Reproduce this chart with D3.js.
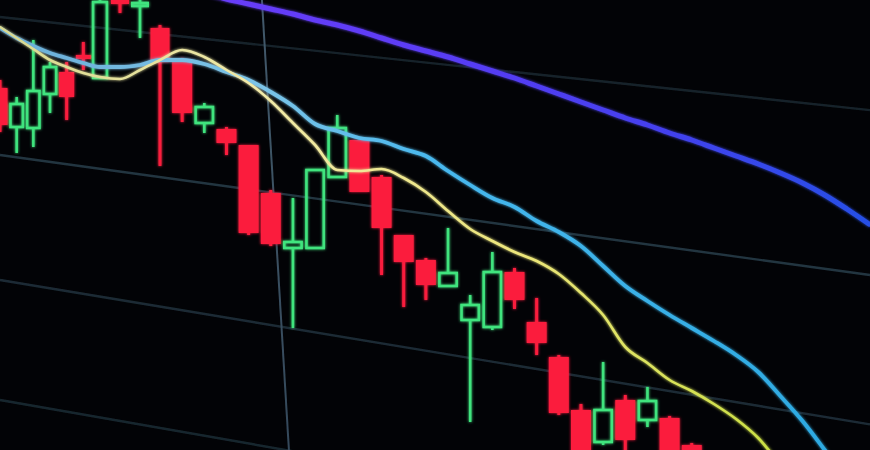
<!DOCTYPE html>
<html>
<head>
<meta charset="utf-8">
<script src="https://cdn.jsdelivr.net/npm/d3@7"></script>
<style>
  html, body { margin: 0; padding: 0; background: #020306; overflow: hidden; }
  svg { display: block; }
</style>
</head>
<body>
<svg id="chart" width="870" height="450"></svg>
<script>
// ---------- DATA ----------
const periods = d3.range(42);               // candle / period index
const opens  = [47120,46730,46720,47060,47280,47450,47220,48050,47940,47720,47400,46770,46710,46550,46070,45520,45520,46230,46600,46230,45650,45400,45140,44800,44730,45280,44780,44430,43900,43580,44000,43800,43820,43550];
const highs  = [47200,47030,47600,47380,47380,47580,48150,48150,48200,47750,47420,46970,46730,46550,46100,46020,46300,46850,46600,46250,45650,45420,45720,45050,45480,45320,45020,44450,43960,44380,44050,44130,43840,43570];
const lows   = [46680,46470,46530,46870,46800,47300,47220,47870,47620,46340,46780,46670,46450,45650,45540,44720,45520,46230,46080,45250,44930,45000,45140,43780,44700,44910,44450,43850,43400,43550,43450,43730,43300,43150];
const closes = [46750,46960,47090,47330,47030,47410,47980,47960,47970,47380,46870,46930,46570,45670,45560,45580,46300,46720,46080,45720,45380,45150,45270,44950,45280,45000,44570,43870,43450,43900,43600,43990,43350,43200];

// moving averages (null = not on chart)
const maFast = [47730,47620,47510,47400,47330,47270,47230,47210,47300,47400,47500,47430,47300,47170,46990,46770,46550,46300,46290,46310,46220,46080,45890,45710,45590,45480,45390,45260,45070,44850,44530,44370,44200,44090,43960,43810,43620,43350,43050,null,null,null];
const maMid  = [47720,47620,47540,47470,47420,47370,47330,47330,47350,47400,47400,47360,47280,47200,47080,46940,46760,46690,46620,46590,46510,46440,46290,46150,46020,45930,45790,45680,45540,45340,45140,44990,44850,44720,44590,44450,44280,44040,43790,43500,43200,null];
const maSlow = [null,null,null,null,null,null,null,null,null,null,48130,48070,48010,47960,47910,47860,47800,47750,47690,47620,47550,47490,47430,47360,47290,47220,47140,47060,46980,46900,46820,46750,46670,46600,46520,46440,46360,46270,46170,46050,45910,45760];

// grid levels (price at left edge) and vertical grid period
const gridLevels = [47830, 46450, 45200, 44000];
const gridPeriods = [13.6];

// ---------- DRAW ----------
const W = 870, H = 450;
const svg = d3.select("#chart");

const x = d3.scaleLinear().domain([0, 6, 9, 41]).range([0, 100, 160, 869]);
const y = d3.scaleLinear().domain([43500, 48000]).range([H, 0]);

const defs = svg.append("defs");
const glow = defs.append("filter").attr("id", "glow")
  .attr("x", "-20%").attr("y", "-20%").attr("width", "140%").attr("height", "140%");
glow.append("feGaussianBlur").attr("in", "SourceGraphic").attr("stdDeviation", 1.6).attr("result", "b");
const fm = glow.append("feMerge");
fm.append("feMergeNode").attr("in", "b");
fm.append("feMergeNode").attr("in", "SourceGraphic");

const soft = defs.append("filter").attr("id", "soft");
soft.append("feGaussianBlur").attr("stdDeviation", 0.7);

function grad(id, stops) {
  const g = defs.append("linearGradient").attr("id", id)
    .attr("gradientUnits", "userSpaceOnUse").attr("x1", 0).attr("y1", 0).attr("x2", W).attr("y2", 0);
  stops.forEach(s => g.append("stop").attr("offset", s[0]).attr("stop-color", s[1]));
}
grad("gSlow", [[0, "#7440ff"], [0.45, "#5e3cf6"], [0.75, "#4540ee"], [1, "#2650e6"]]);
grad("gMid",  [[0, "#6aaed8"], [0.3, "#7cc4e8"], [0.5, "#48b8ee"], [1, "#2aa8e0"]]);
grad("gFast", [[0, "#d8d890"], [0.3, "#f2eaa8"], [0.6, "#ece67a"], [0.85, "#cfe04a"], [1, "#b8dc30"]]);
const vg = defs.append("linearGradient").attr("id", "gVert")
  .attr("gradientUnits", "userSpaceOnUse").attr("x1", 0).attr("y1", 0).attr("x2", 0).attr("y2", H);
vg.append("stop").attr("offset", 0).attr("stop-color", "#42596a");
vg.append("stop").attr("offset", 1).attr("stop-color", "#34495a");

svg.append("rect").attr("width", W).attr("height", H).attr("fill", "#020306");

// perspective tilt of the screen grid
const tilt = d3.scaleLinear().domain([17, 155, 280, 400]).range([0.107, 0.138, 0.166, 0.175]);
const gGrid = svg.append("g").attr("filter", "url(#soft)");
gGrid.selectAll("line.h").data(gridLevels).join("line").attr("class", "h")
  .attr("x1", 0).attr("x2", W)
  .attr("y1", d => y(d))
  .attr("y2", d => y(d) + tilt(y(d)) * W)
  .attr("stroke", (d, i) => ["#17232a", "#223540", "#1c2c35", "#19272f"][i])
  .attr("stroke-width", 2.4);
gGrid.selectAll("line.v").data(gridPeriods).join("line").attr("class", "v")
  .attr("x1", d => x(d)).attr("y1", 0)
  .attr("x2", d => x(d) + 0.06 * H).attr("y2", H)
  .attr("stroke", "url(#gVert)").attr("stroke-width", 2);

// candles
const candles = opens.map((o, i) => ({ i: periods[i], o, h: highs[i], l: lows[i], c: closes[i] }));
const bw = i => (x(i + 0.5) - x(i - 0.5)) * 0.9;
const gC = svg.append("g").attr("filter", "url(#glow)");
const RED = "#fb1f3e", GREEN = "#3fe47e";

candles.forEach(d => {
  const up = d.c >= d.o;
  const cx = x(d.i), w = bw(d.i);
  const top = y(Math.max(d.o, d.c)), bot = y(Math.min(d.o, d.c));
  if (up) {
    gC.append("line").attr("x1", cx).attr("x2", cx).attr("y1", y(d.h)).attr("y2", top)
      .attr("stroke", GREEN).attr("stroke-width", 2.6);
    gC.append("line").attr("x1", cx).attr("x2", cx).attr("y1", bot).attr("y2", y(d.l))
      .attr("stroke", GREEN).attr("stroke-width", 2.6);
    gC.append("rect").attr("x", cx - w / 2 + 1.3).attr("y", top)
      .attr("width", w - 2.6).attr("height", Math.max(bot - top, 3))
      .attr("fill", "none").attr("stroke", GREEN).attr("stroke-width", 2.6);
  } else {
    gC.append("line").attr("x1", cx).attr("x2", cx).attr("y1", y(d.h)).attr("y2", y(d.l))
      .attr("stroke", RED).attr("stroke-width", 3);
    gC.append("rect").attr("x", cx - w / 2).attr("y", top)
      .attr("width", w).attr("height", Math.max(bot - top, 3))
      .attr("fill", RED);
  }
});

// moving average lines
const line = d3.line().defined(d => d[1] != null)
  .x(d => x(d[0])).y(d => y(d[1])).curve(d3.curveMonotoneX);
const gL = svg.append("g").attr("filter", "url(#glow)");
[[maSlow, "url(#gSlow)", 5], [maMid, "url(#gMid)", 3.8], [maFast, "url(#gFast)", 2.6]].forEach(([arr, col, sw]) => {
  gL.append("path").datum(periods.map(i => [i, arr[i]]))
    .attr("d", line).attr("fill", "none").attr("stroke", col)
    .attr("stroke-width", sw).attr("stroke-linejoin", "round").attr("stroke-linecap", "round");
});
</script>
</body>
</html>
